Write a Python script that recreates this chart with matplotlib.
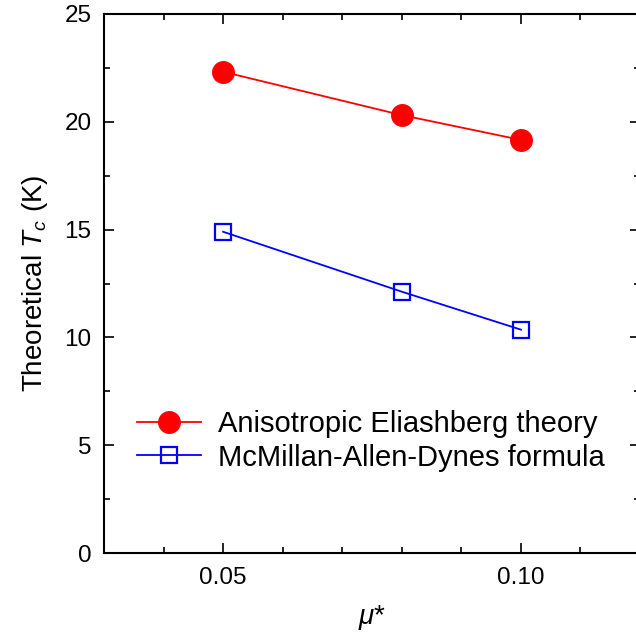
import matplotlib
matplotlib.use("Agg")
import matplotlib.pyplot as plt
from matplotlib.ticker import MultipleLocator, FixedLocator

plt.rcParams['font.family'] = ['Liberation Sans', 'DejaVu Sans']
plt.rcParams['mathtext.fontset'] = 'custom'
plt.rcParams['mathtext.it'] = 'Liberation Sans:italic'
plt.rcParams['mathtext.rm'] = 'Liberation Sans'

mu = [0.05, 0.08, 0.10]
tc_eliashberg = [22.32, 20.31, 19.16]
tc_mad = [14.90, 12.12, 10.36]
labels = ["Anisotropic Eliashberg theory", "McMillan-Allen-Dynes formula"]
xticks = [0.05, 0.10]
xticklabels = ["0.05", "0.10"]

fig = plt.figure(figsize=(6.36, 6.35), dpi=100)
W, H = 636, 635
ax = fig.add_axes([104 / W, (H - 553) / H, (640 - 104) / W, (553 - 14) / H])

ax.plot(mu, tc_eliashberg, color='red', lw=1.3, marker='o', ms=15.5,
        mfc='red', mec='red', label=labels[0])
ax.plot(mu, tc_mad, color='blue', lw=1.3, marker='s', ms=12, mfc='none',
        mec='blue', mew=1.6, label=labels[1])

ax.set_xlim(0.03, 0.12)
ax.set_ylim(0, 25)
ax.xaxis.set_major_locator(FixedLocator(xticks))
ax.set_xticklabels(xticklabels)
ax.xaxis.set_minor_locator(FixedLocator([0.03, 0.04, 0.06, 0.07, 0.08, 0.09, 0.11, 0.12]))
ax.yaxis.set_major_locator(MultipleLocator(5))
ax.yaxis.set_minor_locator(MultipleLocator(2.5))

for s in ax.spines.values():
    s.set_linewidth(1.5)
ax.tick_params(which='both', direction='in', top=True, right=True, width=1.2,
               labelsize=17.5)
ax.tick_params(axis='x', pad=10)
ax.tick_params(axis='y', pad=9)
ax.tick_params(which='major', length=7)
ax.tick_params(which='minor', length=4)

ax.set_xlabel(r'$\mu$*', fontsize=20, labelpad=10)
ax.set_ylabel(r'Theoretical $T_c$ (K)', fontsize=20, labelpad=10)

ax.legend(loc='lower left', bbox_to_anchor=(0.061, 0.151), frameon=False,
          fontsize=21, handlelength=2.2, handletextpad=0.6, labelspacing=0.18,
          borderpad=0, borderaxespad=0, numpoints=1)

fig.savefig('out.png', dpi=100)
